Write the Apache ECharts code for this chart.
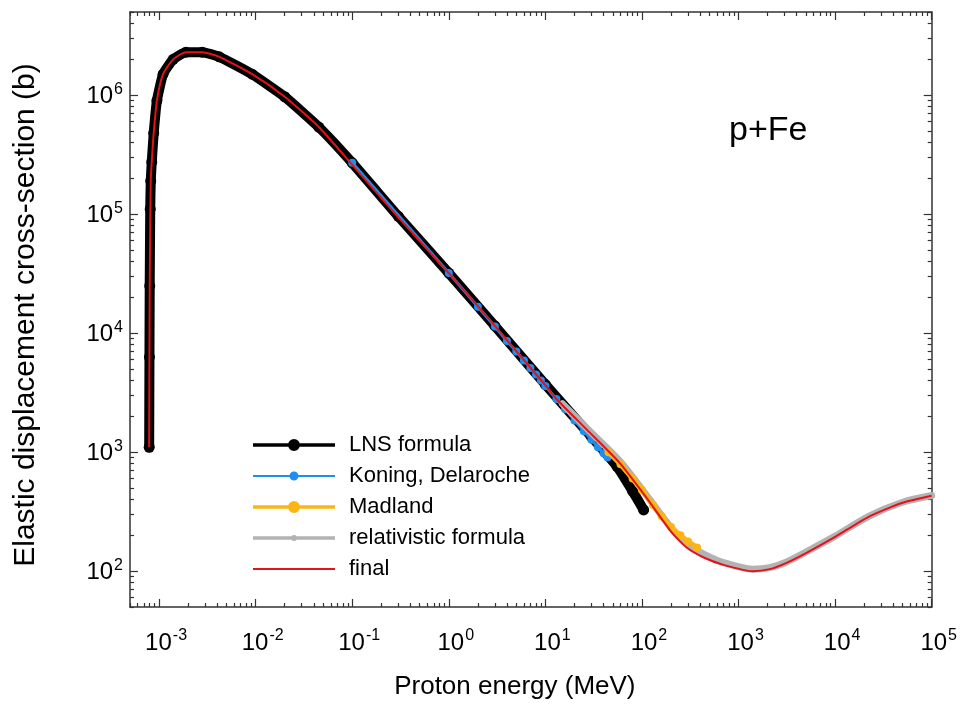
<!DOCTYPE html>
<html>
<head>
<meta charset="utf-8">
<script src="https://cdn.jsdelivr.net/npm/echarts@6/dist/echarts.min.js"></script>
<style>
  html, body {margin: 0; padding: 0; background: #fff;}
  #chart {width: 960px; height: 709px;}
</style>
</head>
<body>
<div id="chart"></div>
<script>
// proton energy (MeV) / cross-section (b)
const lnsEnergy = [7.9e-4, 7.95e-4, 8.0e-4, 8.1e-4, 8.2e-4, 8.4e-4, 8.8e-4, 9.5e-4, 1.1e-3, 1.4e-3, 1.9e-3, 2.8e-3, 4.2e-3, 9.2e-3, 0.02, 0.045, 0.1, 0.3, 1, 3, 10, 30, 55, 80, 104];
const lnsSigma = [1100, 6300, 25000, 1.1e5, 1.9e5, 2.75e5, 4.8e5, 9.0e5, 1.5e6, 2.0e6, 2.3e6, 2.3e6, 2.1e6, 1.5e6, 9.7e5, 5.4e5, 2.7e5, 9.6e4, 3.2e4, 1.15e4, 3.7e3, 1.35e3, 760, 470, 327];

const koningEnergy = [0.1, 1, 2, 3, 4, 5, 6, 7, 8, 9, 10, 13, 16, 20, 25, 30, 35, 40, 44];
const koningSigma = [2.7e5, 3.2e4, 1.67e4, 1.14e4, 8.6e3, 7.0e3, 5.9e3, 5.1e3, 4.5e3, 4.0e3, 3.6e3, 2.8e3, 2.3e3, 1.85e3, 1.5e3, 1.27e3, 1.1e3, 980, 900];

const madlandEnergy = [45, 60, 80, 100, 130, 160, 200, 250, 300, 372];
const madlandSigma = [1000, 790, 600, 480, 360, 290, 235, 200, 178, 158];

const relEnergy = [15, 27, 59, 110, 200, 290, 430, 700, 1400, 2100, 3100, 5000, 1e4, 2.2e4, 4.9e4, 1e5];
const relSigma = [2550, 1580, 840, 440, 232, 170, 140, 118, 104, 107, 119, 145, 197, 288, 378, 432];

const finalEnergy = [7.9e-4, 8.0e-4, 8.2e-4, 8.4e-4, 8.8e-4, 9.5e-4, 1.1e-3, 1.4e-3, 1.9e-3, 2.8e-3, 4.2e-3, 9.2e-3, 0.02, 0.045, 0.1, 0.3, 1, 3, 10, 13, 27, 59, 110, 200, 290, 430, 700, 1400, 2100, 3100, 5000, 1e4, 2.2e4, 4.9e4, 1e5];
const finalSigma = [1100, 25000, 1.9e5, 2.75e5, 4.8e5, 9.0e5, 1.5e6, 2.0e6, 2.3e6, 2.3e6, 2.1e6, 1.5e6, 9.7e5, 5.4e5, 2.6e5, 9.4e4, 3.2e4, 1.15e4, 3.65e3, 2.8e3, 1.54e3, 810, 420, 215, 158, 131, 113, 100, 104, 117, 142, 194, 285, 374, 430];

const xDecades = [1e-3, 1e-2, 1e-1, 1, 10, 100, 1e3, 1e4, 1e5];
const yDecades = [1e2, 1e3, 1e4, 1e5, 1e6];

const X_MIN = 5e-4, X_MAX = 1e5, Y_MIN = 50, Y_MAX = 5e6;
const FONT = '"Liberation Sans", Arial, sans-serif';
const AXIS_COLOR = '#333';

function minorTicks(lo, hi) {
    let out = [];
    for (let k = -5; k <= 7; k++) {
        for (let m = 2; m <= 9; m++) {
            let v = m * Math.pow(10, k);
            if (v >= lo && v <= hi) out.push(v);
        }
    }
    return out;
}

function pairs(xs, ys) {
    return xs.map((x, i) => [x, ys[i]]);
}

function powLabel(v) {
    let e = Math.round(Math.log10(v));
    return '{b|10}{s|' + e + '}';
}

const labelRich = {
    b: {fontSize: 24, fontFamily: FONT, color: '#000', verticalAlign: 'bottom'},
    s: {fontSize: 16, fontFamily: FONT, color: '#000', verticalAlign: 'bottom', padding: [0, 0, 11, 1]}
};

// line + dot icon, drawn in an 82x14 box
function legendIcon(t, r) {
    let p = 'path://M0,0M82,14M0,' + (7 - t / 2) + 'H82V' + (7 + t / 2) + 'H0Z';
    if (r > 0) {
        p += 'M' + (41 - r) + ',7A' + r + ',' + r + ',0,0,1,' + (41 + r) + ',7A' + r + ',' + r + ',0,0,1,' + (41 - r) + ',7Z';
    }
    return p;
}

function makeXAxis(position, ticks, len, showLabel, name) {
    return {
        type: 'log', logBase: 10, min: X_MIN, max: X_MAX, position: position,
        name: name || '', nameLocation: 'middle', nameGap: 67,
        nameTextStyle: {fontSize: 26, fontFamily: FONT, color: '#000', padding: [0, 32, 0, 0]},
        axisLine: {show: len > 5, onZero: false, lineStyle: {color: AXIS_COLOR, width: 1.5}},
        axisTick: {show: true, inside: true, length: len, customValues: ticks, lineStyle: {color: AXIS_COLOR, width: 1.2}},
        axisLabel: showLabel ? {show: true, customValues: ticks, formatter: powLabel, rich: labelRich, margin: 21, padding: [0, 0, 0, 14]} : {show: false},
        splitLine: {show: false},
        minorTick: {show: false}
    };
}

function makeYAxis(position, ticks, len, showLabel, name) {
    return {
        type: 'log', logBase: 10, min: Y_MIN, max: Y_MAX, position: position,
        name: name || '', nameLocation: 'middle', nameGap: 89,
        nameTextStyle: {fontSize: 30, fontFamily: FONT, color: '#000', padding: [0, 11, 0, 0]},
        axisLine: {show: len > 5, onZero: false, lineStyle: {color: AXIS_COLOR, width: 1.5}},
        axisTick: {show: true, inside: true, length: len, customValues: ticks, lineStyle: {color: AXIS_COLOR, width: 1.2}},
        axisLabel: showLabel ? {show: true, customValues: ticks, formatter: powLabel, rich: labelRich, margin: 7} : {show: false},
        splitLine: {show: false},
        minorTick: {show: false}
    };
}

const xMinor = minorTicks(X_MIN, X_MAX);
const yMinor = minorTicks(Y_MIN, Y_MAX);

let myChart = echarts.init(document.getElementById('chart'), null, {renderer: 'canvas'});

let option = {
    animation: false,
    backgroundColor: '#fff',
    title: {
        text: 'p+Fe', left: 724, top: 109,
        textStyle: {fontSize: 34, fontWeight: 'normal', fontFamily: FONT, color: '#000'}
    },
    grid: {left: 130, right: 23, top: 12, bottom: 102, containLabel: false},
    legend: {
        orient: 'vertical', left: 248, top: 429,
        itemWidth: 82, itemHeight: 14, itemGap: 9,
        itemStyle: {borderWidth: 0},
        textStyle: {fontSize: 22, lineHeight: 22, fontFamily: FONT, color: '#000', padding: [0, 0, 0, 9]},
        data: [
            {name: 'LNS formula', icon: legendIcon(3.5, 6)},
            {name: 'Koning, Delaroche', icon: legendIcon(2, 4.5)},
            {name: 'Madland', icon: legendIcon(3.5, 6)},
            {name: 'relativistic formula', icon: legendIcon(3.5, 3)},
            {name: 'final', icon: legendIcon(2, 0)}
        ]
    },
    xAxis: [
        makeXAxis('bottom', xDecades, 8, true, 'Proton energy (MeV)'),
        makeXAxis('top', xDecades, 8, false),
        makeXAxis('bottom', xMinor, 4, false),
        makeXAxis('top', xMinor, 4, false)
    ],
    yAxis: [
        makeYAxis('left', yDecades, 8, true, 'Elastic displacement cross-section (b)'),
        makeYAxis('right', yDecades, 8, false),
        makeYAxis('left', yMinor, 4, false),
        makeYAxis('right', yMinor, 4, false)
    ],
    series: [
        {
            name: 'LNS formula', type: 'line', z: 2, data: pairs(lnsEnergy, lnsSigma),
            color: '#000', symbol: 'circle', symbolSize: 11, smooth: 0.15,
            lineStyle: {width: 10, cap: 'round', join: 'round'}
        },
        {
            name: 'Koning, Delaroche', type: 'line', z: 3, data: pairs(koningEnergy, koningSigma),
            color: '#1e8ef0', symbol: 'circle', symbolSize: 8,
            lineStyle: {width: 3, join: 'round'}
        },
        {
            name: 'Madland', type: 'line', z: 5, data: pairs(madlandEnergy, madlandSigma),
            color: '#fdb515', symbol: 'circle', symbolSize: 8,
            lineStyle: {width: 5, join: 'round', cap: 'round'}
        },
        {
            name: 'relativistic formula', type: 'line', z: 4, data: pairs(relEnergy, relSigma),
            color: '#b3b3b3', symbol: 'circle', symbolSize: 5, smooth: 0.3,
            lineStyle: {width: 7, join: 'round', cap: 'round'}
        },
        {
            name: 'final', type: 'line', z: 6, data: pairs(finalEnergy, finalSigma),
            color: '#e3121b', showSymbol: false, symbol: 'none', smooth: 0.2,
            lineStyle: {width: 2, join: 'round'}
        }
    ]
};

myChart.setOption(option);
</script>
</body>
</html>
